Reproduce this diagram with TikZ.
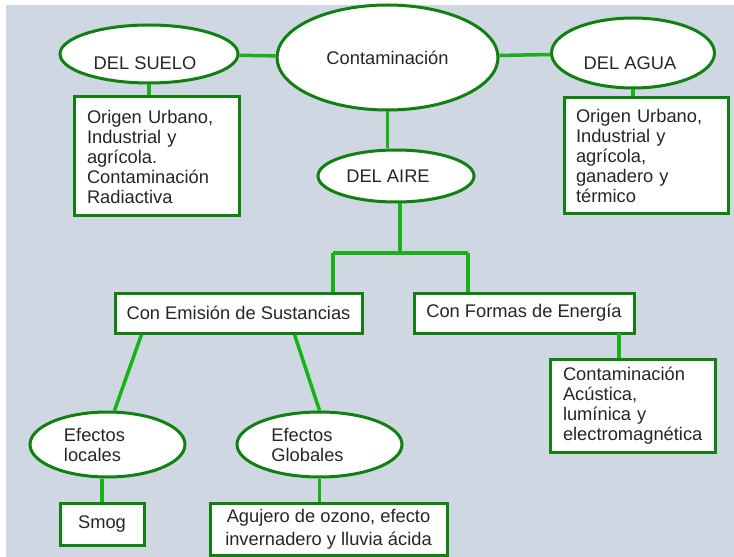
\documentclass[tikz,border=0pt]{standalone}
\usepackage{fontspec}
\setmainfont{Liberation Sans}
\usepackage{tikz}
\usetikzlibrary{shapes.geometric}
\definecolor{verde}{RGB}{22,178,22}
\definecolor{verdeosc}{RGB}{16,128,16}
\definecolor{fondo}{RGB}{206,215,226}

\begin{document}
\begin{tikzpicture}
[x=1bp,y=-1bp,
 every node/.style={font=\fontsize{18.3bp}{20bp}\selectfont,text=black!85},
 oval/.style={ellipse,draw=verdeosc,fill=white,line width=3bp,inner sep=0pt},
 caja/.style={rectangle,draw=verdeosc,fill=white,line width=3bp,inner sep=0pt},
 lista/.style={caja,align=left,inner xsep=13bp},
 rama/.style={draw=verde,line width=3.5bp}]
\useasboundingbox (0,0) rectangle (734,557);
\fill[white] (0,0) rectangle (734,557);
\fill[fondo] (6,5) rectangle (734,557);
% ovals
\node[oval,minimum width=221bp,minimum height=105bp] (contam) at (387.5,57.5) {Contaminación};
\node[oval,minimum width=178bp,minimum height=58bp,label={[yshift=-9bp,xshift=-4bp]center:DEL SUELO}] (suelo) at (149,54) {};
\node[oval,minimum width=163bp,minimum height=70bp,label={[yshift=-10bp,xshift=-3bp]center:DEL AGUA}] (agua) at (633,53) {};
\node[oval,minimum width=156bp,minimum height=52bp,label={[xshift=-8bp]center:DEL AIRE}] (aire) at (396,176) {};
\node[oval,minimum width=155bp,minimum height=65bp,label={[align=left,xshift=-13bp]center:Efectos\\locales}] (locales) at (107.5,444.5) {};
\node[oval,minimum width=165bp,minimum height=65bp,label={[align=left,xshift=-12bp]center:Efectos\\Globales}] (globales) at (319.5,444.5) {};
% boxes
\node[lista,text width=139bp,minimum height=119bp] (suelobox) at (156.5,156.5) {Origen Urbano,\\Industrial y\\agrícola.\\Contaminación\\Radiactiva};
\node[lista,text width=140bp,inner xsep=12bp,minimum height=116bp] (aguabox) at (646,156) {Origen Urbano,\\Industrial y\\agrícola,\\ganadero y\\térmico};
\node[caja,minimum width=247bp,minimum height=40bp] (emision) at (238.5,313) {Con Emisión de Sustancias};
\node[caja,minimum width=220bp,minimum height=40bp] (formas) at (524,313) {Con Formas de Energía};
\node[lista,text width=139bp,minimum height=93bp] (energia) at (632.5,405.5) {Contaminación\\Acústica,\\lumínica y\\electromagnética};
\node[caja,minimum width=84bp,minimum height=42bp] (smog) at (102,524) {Smog};
\node[caja,align=center,minimum width=237bp,minimum height=52bp,font=\fontsize{18.3bp}{23bp}\selectfont] (agujero) at (328.5,529) {Agujero de ozono, efecto\\invernadero y lluvia ácida};
\coordinate (bajaire) at (400,253);
\coordinate (izq) at (333,253);
\coordinate (der) at (468,253);
\coordinate (bajformas) at (619,333);
\path[rama] (suelo) edge (contam)
      (contam) edge (agua)
      (suelo.south) edge (suelo.south |- suelobox.north)
      (agua.south) edge (agua.south |- aguabox.north)
      (contam.south) edge (contam.south |- aire.north)
      (bajaire |- aire.south) edge (bajaire)
      (izq) edge (der)
            edge (izq |- emision.north)
      (der) edge (der |- formas.north)
      (bajformas) edge (bajformas |- energia.north)
      ([xshift=28bp]emision.south west) edge ([xshift=7bp]locales.north)
      ([xshift=-69bp]emision.south east) edge (globales.north)
      (smog.north |- locales.south) edge (smog.north)
      (globales.south) edge (globales.south |- agujero.north);
\end{tikzpicture}
\end{document}
